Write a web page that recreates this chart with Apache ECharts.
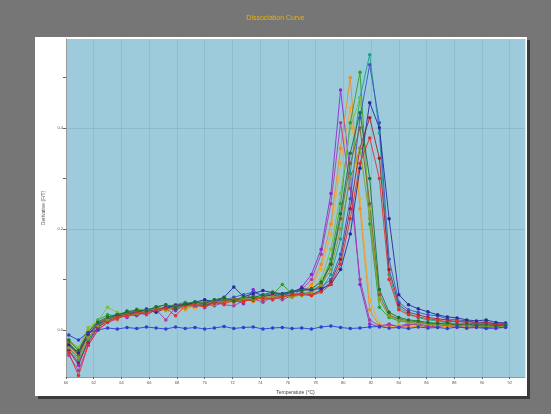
<!DOCTYPE html>
<html>
<head>
<meta charset="utf-8">
<style>
  html, body { margin: 0; padding: 0; background: #767676; }
  #chart { width: 551px; height: 414px; }
</style>
<script src="https://cdn.jsdelivr.net/npm/echarts@6/dist/echarts.min.js"></script>
</head>
<body>
<div id="chart"></div>
<script>
// Melt temperatures (°C) shared by every well
const temps = [60.2, 60.9, 61.6, 62.3, 63.0, 63.7, 64.4, 65.1, 65.8, 66.5, 67.2, 67.9,
  68.6, 69.3, 70.0, 70.7, 71.4, 72.1, 72.8, 73.5, 74.2, 74.9, 75.6, 76.3,
  77.0, 77.7, 78.4, 79.1, 79.8, 80.5, 81.2, 81.9, 82.6, 83.3, 84.0, 84.7,
  85.4, 86.1, 86.8, 87.5, 88.2, 88.9, 89.6, 90.3, 91.0, 91.7];

// Derivative values, one array per well
const wellA = [-0.04,-0.07,-0.02,0.005,0.02,0.03,0.025,0.035,0.03,0.04,0.045,0.038,0.05,0.045,0.052,0.048,0.055,0.06,0.052,0.08,0.065,0.062,0.07,0.072,
  0.085,0.11,0.16,0.27,0.475,0.31,0.09,0.012,0.006,0.01,0.008,0.012,
  0.01,0.006,0.012,0.008,0.005,0.01,0.007,0.004,0.008,0.006];
const wellB = [-0.02,-0.04,0.0,0.015,0.025,0.02,0.035,0.03,0.04,0.035,0.042,0.048,0.04,0.05,0.055,0.05,0.058,0.055,0.06,0.058,0.065,0.06,0.068,0.065,
  0.075,0.09,0.13,0.21,0.36,0.50,0.24,0.04,0.008,0.004,0.01,0.006,
  0.008,0.004,0.01,0.006,0.009,0.003,0.007,0.01,0.005,0.006];
const wellC = [-0.03,-0.055,-0.015,0.012,0.018,0.03,0.028,0.04,0.032,0.042,0.038,0.045,0.05,0.042,0.05,0.058,0.052,0.06,0.065,0.056,0.062,0.07,0.064,0.07,
  0.072,0.085,0.12,0.19,0.33,0.44,0.26,0.06,0.012,0.006,0.009,0.004,
  0.006,0.01,0.004,0.008,0.012,0.006,0.004,0.009,0.007,0.005];
const wellD = [-0.05,-0.08,-0.03,0.0,0.015,0.022,0.03,0.028,0.036,0.04,0.02,0.045,0.046,0.052,0.044,0.055,0.05,0.048,0.058,0.062,0.055,0.066,0.06,0.068,
  0.08,0.10,0.15,0.25,0.41,0.28,0.10,0.02,0.008,0.012,0.006,0.01,
  0.012,0.008,0.006,0.011,0.007,0.004,0.009,0.006,0.003,0.007];
const wellE = [-0.025,-0.045,-0.005,0.02,0.03,0.028,0.038,0.035,0.04,0.045,0.05,0.042,0.048,0.055,0.05,0.058,0.062,0.055,0.06,0.068,0.065,0.07,0.09,0.072,
  0.07,0.075,0.09,0.14,0.25,0.41,0.51,0.21,0.045,0.025,0.018,0.015,
  0.014,0.012,0.01,0.012,0.008,0.01,0.009,0.007,0.01,0.008];
const wellF = [-0.035,-0.06,-0.02,0.01,0.025,0.032,0.03,0.04,0.038,0.045,0.042,0.05,0.055,0.05,0.06,0.055,0.062,0.058,0.065,0.06,0.07,0.068,0.072,0.078,
  0.075,0.07,0.08,0.11,0.18,0.31,0.46,0.545,0.39,0.11,0.045,0.032,
  0.025,0.02,0.018,0.015,0.012,0.014,0.01,0.011,0.009,0.01];
const wellG = [-0.02,-0.035,0.005,0.018,0.045,0.035,0.03,0.042,0.04,0.038,0.048,0.05,0.045,0.05,0.058,0.052,0.056,0.064,0.058,0.062,0.068,0.064,0.07,0.075,
  0.068,0.078,0.10,0.16,0.27,0.40,0.46,0.24,0.06,0.03,0.02,0.016,
  0.015,0.013,0.01,0.012,0.009,0.011,0.008,0.01,0.007,0.009];
const wellH = [-0.03,-0.05,-0.01,0.012,0.022,0.03,0.035,0.033,0.042,0.04,0.045,0.05,0.052,0.048,0.055,0.06,0.058,0.065,0.07,0.075,0.068,0.072,0.07,0.074,
  0.08,0.078,0.085,0.10,0.15,0.26,0.42,0.525,0.41,0.14,0.055,0.04,
  0.035,0.03,0.028,0.022,0.02,0.018,0.015,0.016,0.012,0.013];
const wellI = [-0.04,-0.065,-0.025,0.005,0.018,0.025,0.032,0.03,0.038,0.04,0.045,0.042,0.05,0.052,0.048,0.056,0.055,0.062,0.06,0.058,0.066,0.07,0.065,0.07,
  0.072,0.07,0.078,0.095,0.14,0.24,0.36,0.42,0.34,0.12,0.05,0.035,
  0.03,0.025,0.022,0.02,0.016,0.018,0.013,0.015,0.012,0.01];
const wellJ = [-0.025,-0.05,-0.01,0.015,0.022,0.03,0.034,0.038,0.035,0.045,0.04,0.048,0.052,0.05,0.055,0.052,0.06,0.057,0.062,0.066,0.06,0.064,0.07,0.068,
  0.07,0.076,0.09,0.13,0.22,0.33,0.40,0.25,0.07,0.03,0.022,0.018,
  0.016,0.012,0.014,0.01,0.011,0.008,0.01,0.009,0.007,0.008];
const wellK = [-0.03,-0.045,-0.008,0.01,0.02,0.028,0.03,0.036,0.04,0.035,0.044,0.048,0.05,0.055,0.06,0.055,0.065,0.085,0.066,0.072,0.078,0.074,0.072,0.076,
  0.082,0.08,0.082,0.09,0.12,0.19,0.32,0.45,0.40,0.22,0.07,0.05,
  0.042,0.036,0.03,0.026,0.024,0.02,0.018,0.02,0.015,0.014];
const wellL = [-0.035,-0.055,-0.015,0.008,0.02,0.026,0.03,0.032,0.038,0.042,0.04,0.046,0.044,0.05,0.053,0.058,0.054,0.06,0.063,0.06,0.064,0.066,0.068,0.065,
  0.07,0.074,0.088,0.12,0.2,0.3,0.36,0.22,0.06,0.028,0.02,0.015,
  0.013,0.012,0.009,0.011,0.008,0.01,0.007,0.009,0.006,0.008];
const wellM = [-0.045,-0.09,-0.03,0.0,0.015,0.025,0.028,0.035,0.032,0.04,0.043,0.028,0.048,0.05,0.046,0.054,0.052,0.058,0.056,0.062,0.064,0.06,0.066,0.07,
  0.07,0.068,0.075,0.09,0.13,0.22,0.33,0.38,0.30,0.10,0.04,0.03,
  0.026,0.022,0.02,0.016,0.018,0.014,0.012,0.013,0.01,0.011];
const wellN = [-0.02,-0.04,-0.005,0.016,0.026,0.03,0.036,0.04,0.038,0.046,0.05,0.045,0.052,0.056,0.052,0.06,0.064,0.058,0.066,0.064,0.07,0.075,0.07,0.076,
  0.078,0.082,0.095,0.13,0.23,0.35,0.43,0.30,0.08,0.035,0.025,0.02,
  0.018,0.015,0.013,0.014,0.01,0.012,0.009,0.011,0.008,0.01];
// No-template control
const wellNTC = [-0.01,-0.02,-0.005,0.0,0.004,0.002,0.005,0.003,0.006,0.004,0.002,0.006,0.003,0.005,0.002,0.004,0.007,0.003,0.005,0.006,0.002,0.004,0.005,0.003,
  0.004,0.002,0.006,0.008,0.005,0.003,0.004,0.006,0.007,0.004,0.005,0.003,
  0.006,0.004,0.005,0.003,0.006,0.004,0.005,0.003,0.004,0.005];

const wells = [
  { name: 'A', data: wellA, color: '#8a2bd2' },
  { name: 'B', data: wellB, color: '#f28c1c' },
  { name: 'C', data: wellC, color: '#f7a82a' },
  { name: 'D', data: wellD, color: '#b03aa0' },
  { name: 'E', data: wellE, color: '#2ca02c' },
  { name: 'F', data: wellF, color: '#17a08a' },
  { name: 'G', data: wellG, color: '#7bc043' },
  { name: 'H', data: wellH, color: '#3a56c8' },
  { name: 'I', data: wellI, color: '#a0202e' },
  { name: 'J', data: wellJ, color: '#8c5a2a' },
  { name: 'K', data: wellK, color: '#28289a' },
  { name: 'L', data: wellL, color: '#8a9a22' },
  { name: 'M', data: wellM, color: '#e0302a' },
  { name: 'N', data: wellN, color: '#1d6e35' },
  { name: 'NTC', data: wellNTC, color: '#2d3fd0' }
];

const yLabelValues = [0, 0.2, 0.4];
const yTickValues = [0, 0.1, 0.2, 0.3, 0.4, 0.5];

const chart = echarts.init(document.getElementById('chart'), null, { renderer: 'canvas' });

const series = wells.map(w => ({
  name: w.name,
  type: 'line',
  data: temps.map((t, i) => [t, w.data[i]]),
  symbol: 'circle',
  symbolSize: 3.5,
  lineStyle: { width: 0.9, color: w.color },
  itemStyle: { color: w.color },
  animation: false
}));

// Faint horizontal grid at the labelled derivative values
series[series.length - 1].markLine = {
  silent: true,
  symbol: 'none',
  label: { show: false },
  lineStyle: { color: 'rgba(90,130,150,0.22)', type: 'solid', width: 1 },
  data: [{ yAxis: 0.2 }, { yAxis: 0.4 }]
};

chart.setOption({
  backgroundColor: '#767676',
  title: {
    text: 'Dissociation Curve',
    left: 'center',
    top: 10,
    textStyle: { color: '#e8b400', fontSize: 7, fontWeight: 'normal', fontFamily: 'Liberation Sans' }
  },
  graphic: [
    { type: 'rect', shape: { x: 38, y: 40, width: 492, height: 359 }, style: { fill: '#3a3a3a' }, z: -2 },
    { type: 'rect', shape: { x: 35, y: 37, width: 492, height: 359 }, style: { fill: '#ffffff' }, z: -1 }
  ],
  grid: {
    left: 66, right: 26, top: 39, bottom: 37,
    show: true, backgroundColor: '#9dcbdb', borderWidth: 0
  },
  xAxis: {
    type: 'value',
    min: 60, max: 93.1, interval: 2,
    name: 'Temperature (°C)',
    nameLocation: 'middle',
    nameGap: 11,
    nameTextStyle: { fontSize: 5, color: '#444', fontFamily: 'Liberation Sans' },
    axisLine: { show: true, onZero: false, lineStyle: { color: '#999', width: 1 } },
    axisTick: { show: true, length: 2, lineStyle: { color: '#666' } },
    axisLabel: { fontSize: 4, color: '#555', margin: 4, showMaxLabel: false, fontFamily: 'Liberation Sans' },
    splitLine: { show: true, lineStyle: { color: 'rgba(90,130,150,0.18)', width: 1 } }
  },
  yAxis: {
    type: 'value',
    min: -0.093, max: 0.576,
    name: 'Derivative (F/T)',
    nameLocation: 'middle',
    nameGap: 18,
    nameRotate: 90,
    nameTextStyle: { fontSize: 5, color: '#555', fontFamily: 'Liberation Sans' },
    axisLine: { show: true, lineStyle: { color: '#999', width: 1 } },
    axisTick: { show: true, length: 3, customValues: yTickValues, lineStyle: { color: '#666' } },
    axisLabel: { fontSize: 4, color: '#555', margin: 3, customValues: yLabelValues,
      formatter: v => v.toFixed(1), fontFamily: 'Liberation Sans' },
    splitLine: { show: false }
  },
  series: series
});
</script>
</body>
</html>
